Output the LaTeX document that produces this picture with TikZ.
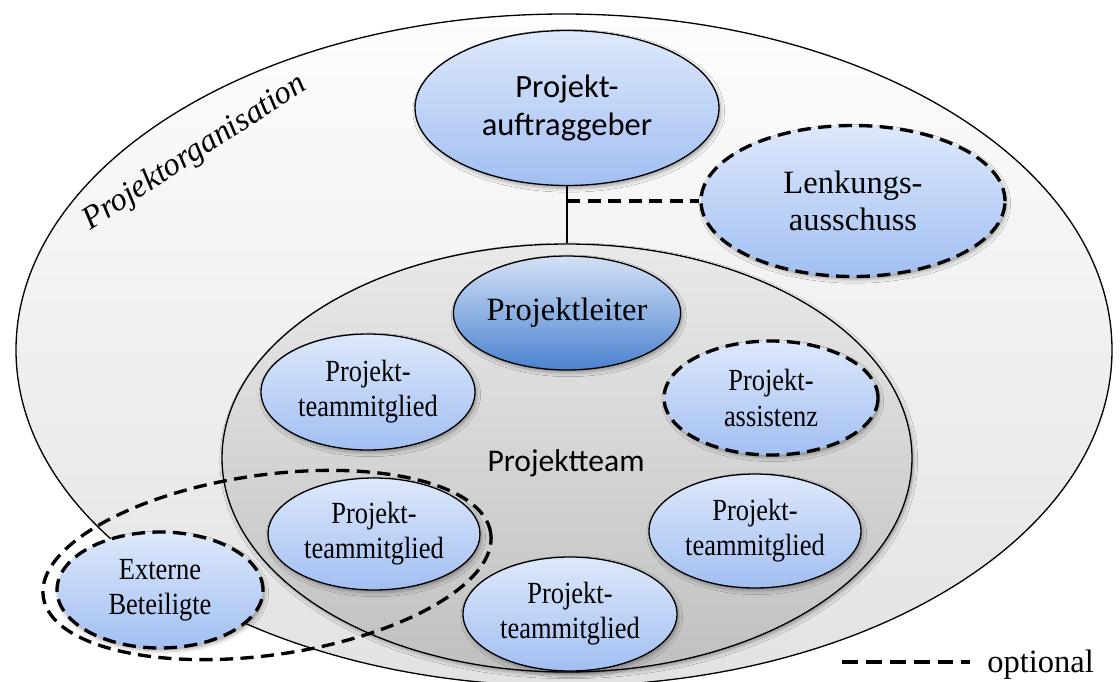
\documentclass[tikz,border=0pt]{standalone}
\usepackage{fontspec}
\setmainfont{Liberation Serif}
\newfontfamily\calib{Carlito}
\newfontfamily\narrowserif[FakeStretch=0.86]{Liberation Serif}
\usetikzlibrary{shapes.geometric,shadows.blur}

\definecolor{orgtop}{HTML}{FDFDFD}
\definecolor{orgbot}{HTML}{E2E2E2}
\definecolor{teamtop}{HTML}{E9E9E9}
\definecolor{teambot}{HTML}{C0C0C0}
\definecolor{roletop}{HTML}{DDE8FB}
\definecolor{rolebot}{HTML}{A2BFF2}
\definecolor{leadtop}{HTML}{D4E1F6}
\definecolor{leadbot}{HTML}{4A82D0}

\begin{document}
\begin{tikzpicture}[x=0.02cm,y=-0.02cm,
  sz/.style 2 args={minimum width=#1*0.02cm, minimum height=#2*0.02cm},
  oval/.style={ellipse, inner sep=0pt, align=center},
  softshadow/.style={blur shadow={shadow xshift=1pt, shadow yshift=-1.6pt,
      shadow blur radius=2.2pt, shadow opacity=35}},
  thin/.style={draw=black, line width=0.75pt},
  dashline/.style={draw=black, line width=1.9pt, dash pattern=on 7.5pt off 4.2pt},
  orgbox/.style={oval, thin, top color=orgtop, bottom color=orgbot},
  teambox/.style={oval, thin, top color=teamtop, bottom color=teambot, softshadow},
  rolefill/.style={oval, top color=roletop, bottom color=rolebot, softshadow},
  role/.style={rolefill, thin},
  optrole/.style={rolefill, dashline},
  lead/.style={oval, thin, top color=leadtop, bottom color=leadbot, softshadow,
      font=\fontsize{18.5}{21}\selectfont},
  member/.style={role, font=\narrowserif\fontsize{17.5}{20}\selectfont},
  optmember/.style={optrole, font=\narrowserif\fontsize{17.5}{20}\selectfont},
  ring/.style={oval, dashline, fill=none},
]
\useasboundingbox (0,0) rectangle (1120,681);

% Projektorganisation (outer frame)
\node[orgbox, sz={1096}{672}] (org) at (564,350) {};
\node[rotate=33, font=\itshape\fontsize{18.5}{21}\selectfont] (orglabel) at (195,153) {Projektorganisation};

% Projektteam
\node[teambox, sz={690}{428}] (team) at (567,458) {};
\node[font=\calib\fontsize{18}{21}\selectfont] (teamlabel) at (566,463) {Projektteam};

% Steering level
\node[role, font=\calib\fontsize{18.5}{21.5}\selectfont, sz={304}{155}] (auftrag) at (567,108) {Projekt-\\auftraggeber};
\node[optrole, font=\fontsize{18.5}{21}\selectfont, sz={304}{151}] (lenk) at (853,201) {Lenkungs-\\ausschuss};

\draw[line width=1.6pt] (auftrag.south) -- (team.north);
\coordinate (tap) at (auftrag.south |- lenk.west);
\draw[dashline] (tap) -- (lenk.west);

% Team roles
\node[lead, sz={226}{114}] (leiter) at (567,313) {Projektleiter};
\node[member, sz={214}{116}] (tm1) at (368,392) {Projekt-\\teammitglied};
\node[optmember, sz={214}{114}] (assist) at (771,398) {Projekt-\\assistenz};
\node[member, sz={212}{112}] (tm2) at (374,534) {Projekt-\\teammitglied};
\node[member, sz={212}{114}] (tm3) at (755,531) {Projekt-\\teammitglied};
\node[member, sz={214}{114}] (tm4) at (570,614) {Projekt-\\teammitglied};

% External participants and their optional grouping
\node[optmember, sz={206}{116}] (ext) at (160,590) {Externe\\Beteiligte};
\node[ring, rotate=8.1, sz={452}{180}] (extgroup) at (267,565) {};

% Legend
\coordinate (legA) at (842,662);
\coordinate (legB) at (970,662);
\draw[draw=black, line width=1.9pt, dash pattern=on 9pt off 4.6pt] (legA) -- (legB);
\node[anchor=base west, font=\fontsize{18.5}{21}\selectfont, inner sep=0pt] (legtext) at (987,672) {optional};
\end{tikzpicture}
\end{document}
